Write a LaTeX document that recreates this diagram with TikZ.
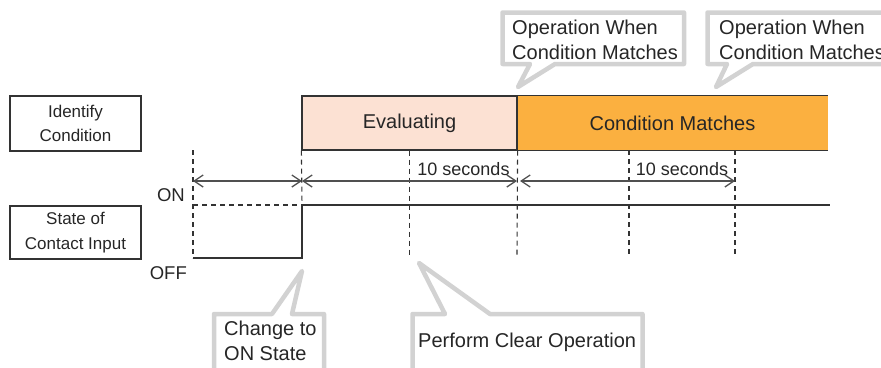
\documentclass[tikz,border=0pt]{standalone}
\usepackage{fontspec}
\setmainfont{Liberation Sans}
\usetikzlibrary{arrows.meta}
\definecolor{txt}{HTML}{262626}
\definecolor{ln}{HTML}{333333}
\definecolor{dimc}{HTML}{505050}
\definecolor{evalfill}{HTML}{FCE1D3}
\definecolor{matchfill}{HTML}{FBB040}
\definecolor{callgray}{HTML}{D2D2D2}
\begin{document}
\begin{tikzpicture}[x=1pt,y=-1pt,
  lbl/.style={draw=ln, line width=1.2pt, inner sep=0pt, align=center, text=txt,
    font=\fontsize{17}{24.5}\selectfont},
  phase/.style={inner sep=0pt, text=txt, font=\fontsize{20}{24}\selectfont},
  guide/.style={draw=ln, line width=1.1pt, dash pattern=on 5pt off 4pt},
  sig/.style={draw=ln, line width=1.3pt},
  dimline/.style={draw=dimc, line width=1.3pt,
    {Straight Barb[length=9pt,width=12pt]}-{Straight Barb[length=9pt,width=12pt]}},
  calloutbox/.style={draw=callgray, line width=4.5pt, fill=white, line join=round},
  calltext/.style={inner sep=0pt, align=left, text=txt, font=\fontsize{20}{24.8}\selectfont},
  secs/.style={inner sep=0pt, text=txt, font=\fontsize{18}{22}\selectfont},
  onoff/.style={inner sep=0pt, text=txt, font=\fontsize{18.5}{22}\selectfont}
]
\useasboundingbox (0,0) rectangle (881,367);
\clip (0,0) rectangle (881,367);

% left labels
\node[lbl, minimum width=131pt, minimum height=55pt] (ident) at (75.5,123.5) {Identify\\Condition};
\node[lbl, minimum width=131pt, minimum height=53pt] (state) at (75.5,232.5) {State of\\Contact Input};

% phase bars
\node[phase, fill=matchfill, minimum width=311pt, minimum height=54pt] (match) at (672.5,123) {Condition Matches};
\draw[sig] (match.north west) -- (match.north east);
\draw[sig] (match.south west) -- (match.south east);
\node[phase, fill=evalfill, draw=ln, line width=1.2pt, minimum width=215pt, minimum height=54pt] (eval) at (409.5,123) {Evaluating};

% grid coordinates
\coordinate (t0) at (193,150);
\coordinate (t4) at (629,150);
\coordinate (t5) at (735,150);
\coordinate (b2) at (409.5,257);
\coordinate (b3) at (517,257);
\coordinate (b4) at (629,257);
\coordinate (b5) at (735,257);
\coordinate (s0) at (193,258);
\coordinate (s1) at (302,258);
\coordinate (s2) at (302,205);
\coordinate (s3) at (830,205);
\coordinate (d0) at (193,205);

% dashed guides
\draw[guide] (t0) -- (s0);
\draw[guide] (eval.south west) -- (s2);
\draw[guide] (eval.south) -- (b2);
\draw[guide] (eval.south east) -- (b3);
\draw[guide] (t4) -- (b4);
\draw[guide] (t5) -- (b5);
\draw[guide] (d0) -- (s2);

% signal
\draw[sig] (s0) -- (s1) -- (s2) -- (s3);

% dimension arrows
\coordinate (a0) at (193,181);
\coordinate (a1) at (302,181);
\coordinate (a2) at (517,181);
\coordinate (a2b) at (520,181);
\coordinate (a3) at (735,181);
\draw[dimline] (a0) -- (a1);
\draw[dimline] (a1) -- (a2);
\draw[dimline] (a2b) -- (a3);

\node[secs, anchor=base] (sec1) at (463.5,175) {10 seconds};
\node[secs, anchor=base] (sec2) at (682,175) {10 seconds};
\node[onoff, anchor=base east] (on) at (185,201) {ON};
\node[onoff, anchor=base east] (off) at (187,279) {OFF};

% callouts
\draw[calloutbox] (502.5,12.5) -- (684,12.5) -- (684,64) -- (555,64) -- (518,87) -- (530,64) -- (502.5,64) -- cycle;
\node[calltext, anchor=west] (op1) at (512,39.5) {Operation When\\Condition Matches};

\draw[calloutbox] (707.5,12.5) -- (900,12.5) -- (900,64) -- (753,64) -- (716,87) -- (727,64) -- (707.5,64) -- cycle;
\node[calltext, anchor=west] (op2) at (719,39.5) {Operation When\\Condition Matches};

\draw[calloutbox] (214,314) -- (272,314) -- (302,271) -- (292,314) -- (324,314) -- (324,395) -- (214,395) -- cycle;
\node[calltext, anchor=west] (chg) at (224,341) {Change to\\ON State};

\draw[calloutbox] (412.5,314) -- (445,314) -- (419,263) -- (490,314) -- (642.5,314) -- (642.5,395) -- (412.5,395) -- cycle;
\node[calltext, anchor=base west] (clr) at (418,347.5) {Perform Clear Operation};
\end{tikzpicture}
\end{document}
